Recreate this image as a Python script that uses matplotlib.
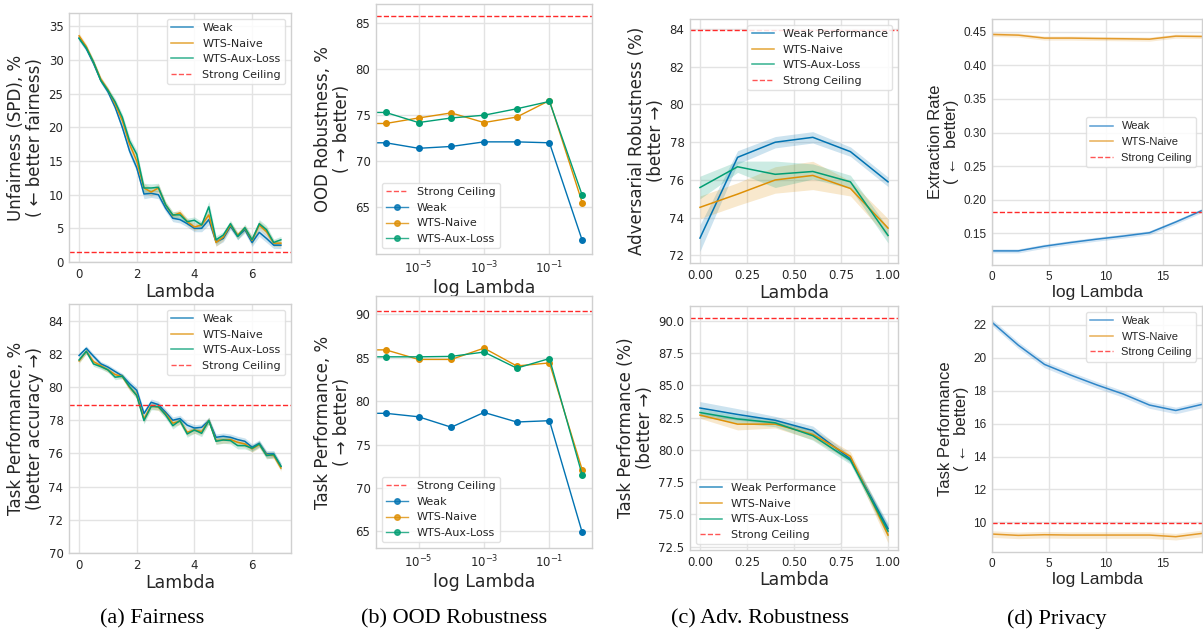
import numpy as np
import matplotlib
matplotlib.use("Agg")
import matplotlib.pyplot as plt
from matplotlib.ticker import FormatStrFormatter

# ---------------- data ----------------
# (a) Fairness
lam_a = [0, 0.25, 0.5, 0.75, 1.0, 1.25, 1.5, 1.75, 2.0, 2.25, 2.5, 2.75, 3.0, 3.25, 3.5,
         3.75, 4.0, 4.25, 4.5, 4.75, 5.0, 5.25, 5.5, 5.75, 6.0, 6.25, 6.5, 6.75, 7.0]
spd_weak = [33.3, 31.7, 29.5, 27.0, 25.3, 23.0, 20.0, 16.5, 14.0, 10.1, 10.2, 10.0, 8.0, 6.5, 6.3,
            5.7, 5.0, 5.0, 6.3, 3.0, 3.5, 5.3, 3.8, 4.8, 2.9, 4.4, 3.5, 2.5, 2.5]
spd_naive = [33.6, 32.0, 29.7, 27.2, 25.6, 23.5, 21.0, 17.5, 15.0, 11.0, 10.4, 11.0, 8.5, 6.9, 7.3,
             6.0, 5.2, 5.5, 7.0, 2.9, 3.7, 5.5, 4.0, 5.0, 3.2, 5.5, 4.5, 2.8, 2.8]
spd_aux = [33.2, 31.8, 29.7, 27.0, 25.5, 23.8, 21.5, 18.0, 16.0, 11.0, 11.0, 11.1, 8.5, 7.0, 7.0,
           6.0, 6.2, 5.5, 8.2, 3.3, 4.0, 5.7, 3.8, 5.1, 3.3, 5.7, 4.8, 2.9, 3.3]
spd_band = [0.4, 0.4, 0.4, 0.4, 0.4, 0.5, 0.5, 0.6, 0.6, 0.7, 0.6, 0.6, 0.5, 0.5, 0.5,
            0.5, 0.5, 0.5, 0.8, 0.6, 0.5, 0.5, 0.5, 0.5, 0.6, 0.6, 0.6, 0.5, 0.5]
spd_ceiling = 1.5

acc_weak = [81.9, 82.33, 81.85, 81.4, 81.2, 80.93, 80.67, 80.2, 79.8, 78.4, 79.08, 78.94, 78.48, 78.0, 78.1,
            77.7, 77.53, 77.57, 77.98, 76.97, 77.03, 76.97, 76.83, 76.73, 76.37, 76.61, 75.97, 75.97, 75.22]
acc_naive = [81.57, 82.15, 81.53, 81.29, 81.03, 80.75, 80.63, 79.98, 79.52, 78.08, 78.88, 78.78, 78.38, 77.82, 77.94,
             77.27, 77.41, 77.31, 77.98, 76.77, 76.81, 76.83, 76.67, 76.57, 76.27, 76.53, 75.91, 75.87, 75.12]
acc_aux = [81.63, 82.15, 81.39, 81.23, 81.03, 80.59, 80.65, 80.02, 79.48, 77.98, 78.82, 78.82, 78.32, 77.67, 77.98,
           77.17, 77.41, 77.21, 77.98, 76.73, 76.81, 76.77, 76.47, 76.47, 76.31, 76.57, 75.87, 75.93, 75.22]
acc_band = [0.15, 0.15, 0.15, 0.15, 0.15, 0.15, 0.15, 0.2, 0.2, 0.2, 0.2, 0.2, 0.2, 0.2, 0.2,
            0.2, 0.2, 0.2, 0.2, 0.2, 0.2, 0.2, 0.2, 0.2, 0.2, 0.2, 0.2, 0.2, 0.2]
acc_ceiling = 78.92

# (b) OOD Robustness
lam_b = [0, 1e-6, 1e-5, 1e-4, 1e-3, 1e-2, 1e-1, 1.0]
ood_weak = [72.0, 72.0, 71.4, 71.6, 72.1, 72.1, 72.0, 61.4]
ood_naive = [74.1, 74.1, 74.7, 75.25, 74.2, 74.8, 76.6, 65.5]
ood_aux = [75.3, 75.3, 74.2, 74.7, 75.0, 75.7, 76.5, 66.3]
ood_ceiling = 85.8
oodt_weak = [78.6, 78.6, 78.2, 77.0, 78.7, 77.6, 77.75, 64.9]
oodt_naive = [85.9, 85.9, 84.8, 84.8, 86.1, 84.05, 84.4, 72.1]
oodt_aux = [85.1, 85.1, 85.1, 85.15, 85.65, 83.8, 84.9, 71.5]
oodt_ceiling = 90.35

# (c) Adversarial Robustness
lam_c = [0.0, 0.2, 0.4, 0.6, 0.8, 1.0]
adv_weak = [72.92, 77.2, 78.0, 78.26, 77.5, 75.9]
adv_naive = [74.55, 75.25, 76.0, 76.24, 75.55, 73.45]
adv_aux = [75.6, 76.7, 76.3, 76.45, 75.9, 73.06]
adv_weak_band = [0.7, 0.35, 0.3, 0.3, 0.25, 0.25]
adv_naive_band = [0.6, 0.6, 0.7, 0.75, 0.4, 0.5]
adv_aux_band = [0.6, 0.3, 0.7, 0.4, 0.35, 0.4]
adv_ceiling = 83.95
advt_weak = [83.25, 82.75, 82.3, 81.5, 79.3, 73.9]
advt_naive = [82.7, 82.0, 82.0, 81.2, 79.5, 73.4]
advt_aux = [82.9, 82.4, 82.1, 81.1, 79.2, 73.7]
advt_weak_band = [0.5, 0.45, 0.3, 0.35, 0.3, 0.4]
advt_naive_band = [0.25, 0.45, 0.3, 0.4, 0.35, 0.6]
advt_aux_band = [0.3, 0.3, 0.3, 0.35, 0.3, 0.5]
advt_ceiling = 90.25

# (d) Privacy
lam_d = [0.0, 2.303, 4.605, 6.908, 9.210, 11.513, 13.816, 16.118, 18.421]
ext_weak = [0.124, 0.124, 0.131, 0.1365, 0.1415, 0.146, 0.151, 0.167, 0.184]
ext_naive = [0.446, 0.445, 0.4406, 0.4406, 0.440, 0.4396, 0.439, 0.4435, 0.443]
ext_band = [0.003, 0.003, 0.003, 0.003, 0.003, 0.003, 0.003, 0.003, 0.003]
ext_ceiling = 0.1813
prv_weak = [22.16, 20.77, 19.6, 18.95, 18.35, 17.8, 17.13, 16.8, 17.17]
prv_naive = [9.29, 9.21, 9.25, 9.23, 9.23, 9.23, 9.23, 9.13, 9.33]
prv_band = [0.2, 0.2, 0.2, 0.2, 0.2, 0.2, 0.2, 0.2, 0.2]
prv_ceiling = 9.95

captions = ["(a) Fairness", "(b) OOD Robustness", "(c) Adv. Robustness", "(d) Privacy"]

# ---------------- style ----------------
C_BLUE = "#0173b2"
C_ORANGE = "#de8f05"
C_GREEN = "#029e73"
C_BLUE_D = "#2f86c8"
C_ORANGE_D = "#e39b2c"
RED = "#ff2a2a"
TXT = "#262626"
GRID = "#e3e3e3"
SPINE = "#d0d0d0"

W, H = 1203, 634
fig = plt.figure(figsize=(W / 100, H / 100), dpi=100)


def make_ax(x0, y0, x1, y1, font="DejaVu Sans"):
    ax = fig.add_axes([x0 / W, 1 - y1 / H, (x1 - x0) / W, (y1 - y0) / H])
    ax.set_facecolor("white")
    ax.grid(True, color=GRID, lw=1.0)
    ax.set_axisbelow(True)
    for s in ax.spines.values():
        s.set_color(SPINE)
        s.set_linewidth(1.0)
    ax.tick_params(length=0, labelsize=8.5, colors=TXT, pad=4)
    return ax


def style_labels(ax, xlabel, ylabel, font="DejaVu Sans"):
    ax.set_xlabel(xlabel, fontsize=12.5, color=TXT, family=font, labelpad=2)
    ax.set_ylabel(ylabel, fontsize=12, color=TXT, family=font, labelpad=3, linespacing=1.1)
    for lab in ax.get_xticklabels() + ax.get_yticklabels():
        lab.set_fontfamily(font)


def band_line(ax, x, y, b, color, label, lw=1.1):
    y = np.asarray(y, float)
    b = np.asarray(b, float)
    ax.fill_between(x, y - b, y + b, color=color, alpha=0.2, lw=0)
    ax.plot(x, y, color=color, lw=lw, label=label)


def legend(ax, loc, font="DejaVu Sans", fs=8.0, **kw):
    lg = ax.legend(loc=loc, frameon=True, framealpha=0.85,
                   edgecolor="#dddddd", fancybox=True, prop={"family": font, "size": fs}, **kw)
    for t in lg.get_texts():
        t.set_color(TXT)
    for h in lg.get_lines():
        h.set_alpha(0.8)
    return lg

# ---- (a) top
ax = make_ax(69, 13, 291, 262)
band_line(ax, lam_a, spd_weak, spd_band, C_BLUE, "Weak")
band_line(ax, lam_a, spd_naive, spd_band, C_ORANGE, "WTS-Naive")
band_line(ax, lam_a, spd_aux, spd_band, C_GREEN, "WTS-Aux-Loss")
ax.axhline(spd_ceiling, color=RED, ls="--", lw=1.0, label="Strong Ceiling")
ax.set_ylim(0, 37)
ax.set_xlim(-0.35, 7.35)
ax.set_yticks(range(0, 36, 5))
ax.set_xticks([0, 2, 4, 6])
style_labels(ax, "Lambda", "Unfairness (SPD), %\n( ← better fairness)")
legend(ax, "upper right")

# ---- (a) bottom
ax = make_ax(69, 304, 291, 553)
band_line(ax, lam_a, acc_weak, acc_band, C_BLUE, "Weak")
band_line(ax, lam_a, acc_naive, acc_band, C_ORANGE, "WTS-Naive")
band_line(ax, lam_a, acc_aux, acc_band, C_GREEN, "WTS-Aux-Loss")
ax.axhline(acc_ceiling, color=RED, ls="--", lw=1.0, label="Strong Ceiling")
ax.set_ylim(70, 85)
ax.set_xlim(-0.35, 7.35)
ax.set_yticks(range(70, 85, 2))
ax.set_xticks([0, 2, 4, 6])
style_labels(ax, "Lambda", "Task Performance, %\n(better accuracy →)")
legend(ax, "upper right")

# ---- (b) top / bottom
for (y0, y1, wk, nv, au, ceil, ylim, yt, ylab) in [
        (4, 254, ood_weak, ood_naive, ood_aux, ood_ceiling, (59.9, 87.1), [65, 70, 75, 80, 85],
         "OOD Robustness, %\n( → better)"),
        (296, 548, oodt_weak, oodt_naive, oodt_aux, oodt_ceiling, (63.1, 92.1), [65, 70, 75, 80, 85, 90],
         "Task Performance, %\n( → better)")]:
    ax = make_ax(376, y0, 592, y1)
    ax.set_xscale("log")
    ax.axhline(ceil, color=RED, ls="--", lw=1.0, label="Strong Ceiling")
    ax.plot(lam_b, wk, color=C_BLUE, lw=1.0, marker="o", ms=4, label="Weak")
    ax.plot(lam_b, nv, color=C_ORANGE, lw=1.0, marker="o", ms=4, label="WTS-Naive")
    ax.plot(lam_b, au, color=C_GREEN, lw=1.0, marker="o", ms=4, label="WTS-Aux-Loss")
    ax.set_xlim(10 ** -6.3, 10 ** 0.3)
    ax.set_ylim(*ylim)
    ax.set_yticks(yt)
    ax.set_xticks([1e-5, 1e-3, 1e-1])
    ax.minorticks_off()
    style_labels(ax, "log Lambda", ylab)
    legend(ax, "lower left")

# ---- (c) top
ax = make_ax(690, 19, 898, 263)
band_line(ax, lam_c, adv_weak, adv_weak_band, C_BLUE, "Weak Performance")
band_line(ax, lam_c, adv_naive, adv_naive_band, C_ORANGE, "WTS-Naive")
band_line(ax, lam_c, adv_aux, adv_aux_band, C_GREEN, "WTS-Aux-Loss")
ax.axhline(adv_ceiling, color=RED, ls="--", lw=1.0, label="Strong Ceiling")
ax.set_xlim(-0.053, 1.053)
ax.set_ylim(71.6, 84.53)
ax.set_yticks([72, 74, 76, 78, 80, 82, 84])
ax.set_xticks([0, 0.25, 0.5, 0.75, 1.0])
ax.xaxis.set_major_formatter(FormatStrFormatter("%.2f"))
style_labels(ax, "Lambda", "Adversarial Robustness (%)\n(better →)")
legend(ax, "upper right")

# ---- (c) bottom
ax = make_ax(690, 306, 898, 550)
band_line(ax, lam_c, advt_weak, advt_weak_band, C_BLUE, "Weak Performance")
band_line(ax, lam_c, advt_naive, advt_naive_band, C_ORANGE, "WTS-Naive")
band_line(ax, lam_c, advt_aux, advt_aux_band, C_GREEN, "WTS-Aux-Loss")
ax.axhline(advt_ceiling, color=RED, ls="--", lw=1.0, label="Strong Ceiling")
ax.set_xlim(-0.053, 1.053)
ax.set_ylim(72.24, 91.16)
ax.set_yticks([72.5, 75, 77.5, 80, 82.5, 85, 87.5, 90])
ax.yaxis.set_major_formatter(FormatStrFormatter("%.1f"))
ax.set_xticks([0, 0.25, 0.5, 0.75, 1.0])
ax.xaxis.set_major_formatter(FormatStrFormatter("%.2f"))
style_labels(ax, "Lambda", "Task Performance (%)\n(better →)")
legend(ax, "lower left")

# ---- (d) top
AR = "Liberation Sans"
ax = make_ax(992, 19, 1202, 265, font=AR)
band_line(ax, lam_d, ext_weak, ext_band, C_BLUE_D, "Weak")
band_line(ax, lam_d, ext_naive, ext_band, C_ORANGE_D, "WTS-Naive")
ax.axhline(ext_ceiling, color=RED, ls="--", lw=1.0, label="Strong Ceiling")
ax.set_xlim(0, 18.421)
ax.set_ylim(0.103, 0.469)
ax.set_yticks([0.15, 0.20, 0.25, 0.30, 0.35, 0.40, 0.45])
ax.yaxis.set_major_formatter(FormatStrFormatter("%.2f"))
ax.set_xticks([0, 5, 10, 15])
style_labels(ax, "log Lambda", "Extraction Rate\n( ←  better)", font=[AR, "DejaVu Sans"])
legend(ax, "center right", font=AR, fs=8)

# ---- (d) bottom
ax = make_ax(992, 306, 1202, 552, font=AR)
band_line(ax, lam_d, prv_weak, prv_band, C_BLUE_D, "Weak")
band_line(ax, lam_d, prv_naive, prv_band, C_ORANGE_D, "WTS-Naive")
ax.axhline(prv_ceiling, color=RED, ls="--", lw=1.0, label="Strong Ceiling")
ax.set_xlim(0, 18.421)
ax.set_ylim(8.2, 23.15)
ax.set_yticks([10, 12, 14, 16, 18, 20, 22])
ax.set_xticks([0, 5, 10, 15])
style_labels(ax, "log Lambda", "Task Performance\n( ←  better)", font=[AR, "DejaVu Sans"])
legend(ax, "upper right", font=AR, fs=8)

# captions
for cx, cap in zip([152, 454, 760, 1057], captions):
    fig.text(cx / W, 1 - 619 / H, cap, ha="center", va="center",
             family="Liberation Serif", fontsize=16, color="black")

fig.savefig("out.png", dpi=100)
